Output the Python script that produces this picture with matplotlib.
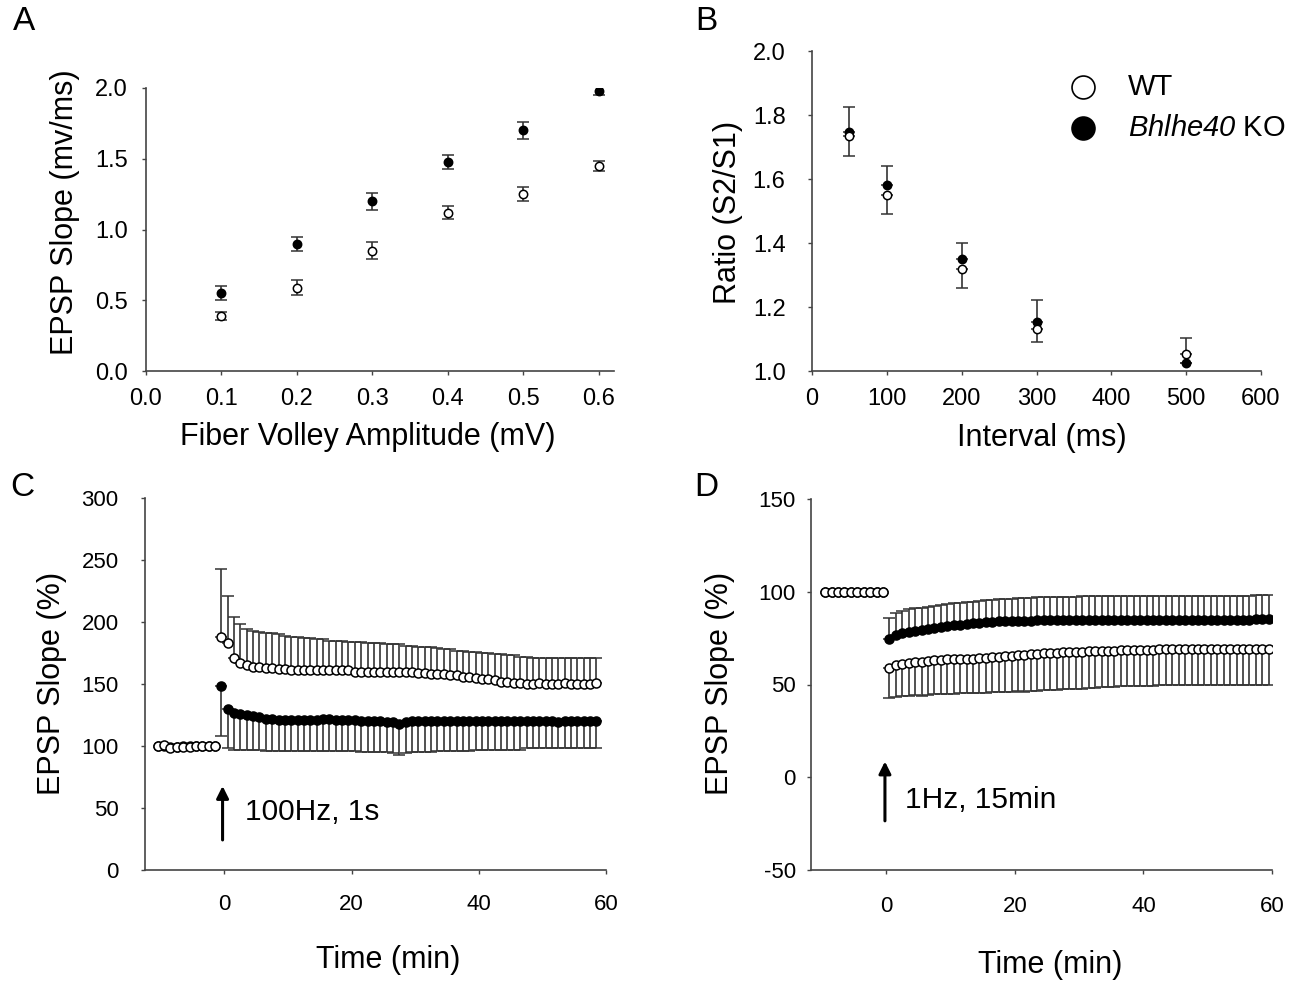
import numpy as np
import matplotlib
matplotlib.use("Agg")
import matplotlib.pyplot as plt

plt.rcParams['font.family'] = ['Liberation Sans', 'DejaVu Sans']
plt.rcParams['axes.unicode_minus'] = False
# digits inside \mathit fall back to the rm font, so make rm italic as well
plt.rcParams['mathtext.fontset'] = 'custom'
plt.rcParams['mathtext.it'] = 'Liberation Sans:italic'
plt.rcParams['mathtext.rm'] = 'Liberation Sans:italic'

# ---- Panel A: input/output ----
fv_amp = [0.1, 0.2, 0.3, 0.4, 0.5, 0.6]
io_wt = [0.39, 0.59, 0.85, 1.12, 1.25, 1.45]
io_wt_err = [0.03, 0.05, 0.06, 0.045, 0.05, 0.035]
io_ko = [0.55, 0.90, 1.20, 1.48, 1.70, 1.98]
io_ko_err = [0.05, 0.05, 0.06, 0.05, 0.06, 0.03]

# ---- Panel B: paired-pulse ratio ----
ppf_interval = [50, 100, 200, 300, 500]
ppf_wt = [1.735, 1.55, 1.32, 1.13, 1.053]
ppf_wt_lo = [0.062, 0.06, 0.06, 0.04, 0.0]
ppf_wt_hi = [0.0, 0.0, 0.0, 0.0, 0.05]
ppf_ko = [1.746, 1.58, 1.35, 1.152, 1.024]
ppf_ko_lo = [0.0, 0.0, 0.0, 0.0, 0.0]
ppf_ko_hi = [0.08, 0.06, 0.05, 0.07, 0.0]

# ---- Panel C: LTP (100 Hz, 1 s) ----
ltp_base_t = np.arange(-10, 0) - 0.5
ltp_base_wt = [100, 101, 98, 99, 99, 99, 100, 100, 100, 100]
ltp_base_ko = [100, 100, 99, 99, 100, 100, 100, 100, 100, 100]
ltp_t = np.arange(60) - 0.5
ltp_wt = [188, 183, 171, 167, 165, 164, 164, 163, 163, 162,
          162, 161, 161, 161, 161, 161, 161, 161, 161, 161,
          161, 160, 160, 160, 160, 160, 160, 160, 160, 160,
          160, 159, 159, 158, 158, 158, 157, 157, 156, 156,
          155, 154, 154, 153, 152, 152, 151, 151, 150, 150,
          151, 150, 150, 150, 151, 150, 150, 150, 150, 151]
ltp_wt_err = [55, 38, 33, 31, 29, 29, 28, 28, 28, 28,
              27, 27, 27, 26, 26, 25, 25, 24, 24, 24,
              23, 24, 24, 23, 23, 23, 22, 22, 22, 21,
              21, 21, 21, 22, 21, 20, 21, 20, 21, 20,
              21, 21, 21, 21, 22, 21, 22, 21, 22, 21,
              20, 21, 21, 21, 20, 21, 21, 21, 21, 20]
ltp_ko = [148, 130, 127, 126, 125, 124, 123, 122, 122, 121,
          121, 121, 121, 121, 121, 121, 122, 122, 121, 121,
          121, 121, 120, 120, 120, 120, 119, 119, 118, 119,
          120, 120, 120, 120, 120, 120, 120, 120, 120, 120,
          120, 120, 120, 120, 120, 120, 120, 120, 120, 120,
          120, 120, 120, 119, 120, 120, 120, 120, 120, 120]
ltp_ko_err = [40, 32, 30, 29, 28, 27, 26, 26, 26, 25,
              25, 25, 25, 25, 25, 25, 26, 26, 25, 25,
              25, 25, 25, 25, 25, 25, 24, 25, 25, 25,
              25, 25, 25, 25, 24, 24, 24, 24, 24, 24,
              23, 23, 23, 23, 23, 23, 23, 23, 22, 22,
              22, 22, 22, 21, 22, 22, 22, 22, 22, 22]

# ---- Panel D: LTD (1 Hz, 15 min) ----
ltd_base_t = np.arange(-10, 0) + 0.5
ltd_base_wt = [100, 100, 100, 100, 100, 100, 100, 100, 100, 100]
ltd_base_ko = [100, 100, 100, 100, 100, 100, 100, 100, 100, 100]
ltd_t = np.arange(60) + 0.5
ltd_ko = [74.5, 76.5, 77.5, 78.5, 79, 79.5, 80, 80.5, 81, 81.5,
          82, 82, 82.5, 83, 83, 83.5, 83.5, 84, 84, 84,
          84.5, 84.5, 84.5, 85, 85, 85, 85, 85, 85, 85,
          85, 85, 85, 85, 85, 85, 85, 85, 85, 85,
          85, 85, 85, 85, 85, 85, 85, 85, 85, 85,
          85, 85, 85, 85, 85, 85, 85, 85.5, 85.5, 85.5]
ltd_ko_err = [11.5, 12, 12, 12, 12, 12, 12, 12, 12, 12,
              12, 12, 12, 11.5, 12, 12, 12, 12, 12, 12,
              12, 12, 12, 12, 12, 12, 12, 12, 12, 12,
              12.5, 12.5, 12.5, 12.5, 12.5, 12.5, 12.5, 12.5, 12.5, 12.5,
              12.5, 12.5, 12.5, 12.5, 12.5, 12.5, 12.5, 12.5, 12.5, 12.5,
              12.5, 12.5, 12.5, 12.5, 12.5, 12.5, 12.5, 12.5, 12.5, 12.5]
ltd_wt = [59, 60.5, 61, 61.5, 62, 62, 62.5, 63, 63, 63.5,
          63.5, 64, 64, 64, 64.5, 64.5, 65, 65, 65.5, 65.5,
          66, 66, 66.5, 66.5, 67, 67, 67, 67.5, 67.5, 67.5,
          67.5, 68, 68, 68, 68, 68, 68.5, 68.5, 68.5, 68.5,
          68.5, 68.5, 69, 69, 69, 69, 69, 69, 69, 69,
          69, 69, 69, 69, 69, 69, 69, 69, 69, 69]
ltd_wt_err = [16.5, 17, 17, 17.5, 17.5, 18, 18, 18, 18, 18.5,
              18.5, 18.5, 18.5, 18.5, 19, 19, 19, 19, 19.5, 19.5,
              19.5, 20, 20, 20, 20, 20, 20, 20, 20, 20,
              20, 20, 20, 19.5, 19.5, 19.5, 19.5, 19.5, 19.5, 19.5,
              19.5, 19.5, 19.5, 19.5, 19.5, 19.5, 19, 19, 19, 19,
              19, 19, 19.5, 19.5, 19, 19, 19, 19, 19.5, 19.5]

W, H = 1303, 983
fig = plt.figure(figsize=(W / 100, H / 100), dpi=100)


def px_axes(left, top, right, bottom):
    return fig.add_axes([left / W, 1 - bottom / H, (right - left) / W, (bottom - top) / H])


def style(ax, size, xpad, ypad):
    for s in ['top', 'right']:
        ax.spines[s].set_visible(False)
    for s in ['left', 'bottom']:
        ax.spines[s].set_color('#444444')
        ax.spines[s].set_linewidth(1.2)
    ax.tick_params(direction='out', length=3, width=1, colors='#444444',
                   labelcolor='black', labelsize=size)
    ax.tick_params(axis='x', pad=xpad)
    ax.tick_params(axis='y', pad=ypad)


ebar = dict(ecolor='#333333', elinewidth=1.2, capsize=4, capthick=1.2,
            linestyle='none', mec='black', mew=1.1)

# Panel A
axA = px_axes(146, 88, 614, 371)
axA.errorbar(fv_amp, io_wt, yerr=io_wt_err, fmt='o', ms=6, mfc='white', **ebar)
axA.errorbar(fv_amp, io_ko, yerr=io_ko_err, fmt='o', ms=6, mfc='black', **ebar)
axA.set_xlim(0, 0.62)
axA.set_ylim(0, 2.0)
axA.set_xticks(np.arange(0, 0.61, 0.1))
axA.set_xticklabels([f"{v:.1f}" for v in np.arange(0, 0.61, 0.1)])
axA.set_yticks(np.arange(0, 2.01, 0.5))
axA.set_yticklabels([f"{v:.1f}" for v in np.arange(0, 2.01, 0.5)])
style(axA, 17, 9, 10)

# Panel B
axB = px_axes(812, 51, 1261, 371)
axB.errorbar(ppf_interval, ppf_ko, yerr=[ppf_ko_lo, ppf_ko_hi], fmt='o', ms=6,
             mfc='black', **ebar)
axB.errorbar(ppf_interval, ppf_wt, yerr=[ppf_wt_lo, ppf_wt_hi], fmt='o', ms=6,
             mfc='white', **ebar)
axB.set_xlim(0, 600)
axB.set_ylim(1.0, 2.0)
axB.set_xticks(np.arange(0, 601, 100))
axB.set_yticks(np.arange(1.0, 2.01, 0.2))
axB.set_yticklabels([f"{v:.1f}" for v in np.arange(1.0, 2.01, 0.2)])
style(axB, 17, 9, 16)

# legend drawn by hand in figure pixels
for (my, face) in [(87, 'white'), (128, 'black')]:
    fig.lines.append(plt.Line2D([1083 / W], [1 - my / H], marker='o', ls='none', ms=16.5,
                                mfc=face, mec='black', mew=1.2,
                                transform=fig.transFigure))
fig.text(1128 / W, 1 - 87 / H, 'WT', fontsize=21, va='center', ha='left')
fig.text(1128 / W, 1 - 128 / H, r'$\mathit{Bhlhe40}$ KO', fontsize=21, va='center', ha='left')

# Panel C
axC = px_axes(145, 498, 606, 870)
axC.plot(ltp_base_t, ltp_base_ko, 'o', ms=6.5, mfc='black', mec='black', zorder=2)
axC.plot(ltp_base_t, ltp_base_wt, 'o', ms=6.5, mfc='white', mec='black', mew=1.1, zorder=3)
axC.errorbar(ltp_t, ltp_wt, yerr=[np.zeros(len(ltp_wt)), ltp_wt_err], fmt='o',
             ms=6.5, mfc='white', **ebar)
axC.errorbar(ltp_t, ltp_ko, yerr=[ltp_ko_err, np.zeros(len(ltp_ko))], fmt='o',
             ms=6.5, mfc='black', **ebar)
axC.set_xlim(-12.5, 60)
axC.set_ylim(0, 300)
axC.set_xticks([0, 20, 40, 60])
axC.set_yticks(np.arange(0, 301, 50))
style(axC, 16, 14, 16)
axC.annotate('', xy=(-0.3, 70), xytext=(-0.3, 22),
             arrowprops=dict(arrowstyle='-|>', color='black', lw=2.2, mutation_scale=18))
axC.text(3.2, 47, '100Hz, 1s', fontsize=21.5, va='center', ha='left')

# Panel D
axD = px_axes(811, 499, 1272, 870)
axD.plot(ltd_base_t, ltd_base_ko, 'o', ms=6.5, mfc='black', mec='black', zorder=2)
axD.plot(ltd_base_t, ltd_base_wt, 'o', ms=6.5, mfc='white', mec='black', mew=1.1, zorder=3)
axD.errorbar(ltd_t, ltd_ko, yerr=[np.zeros(len(ltd_ko)), ltd_ko_err], fmt='o',
             ms=6.5, mfc='black', **ebar)
axD.errorbar(ltd_t, ltd_wt, yerr=[ltd_wt_err, np.zeros(len(ltd_wt))], fmt='o',
             ms=6.5, mfc='white', **ebar)
axD.set_xlim(-11.7, 60)
axD.set_ylim(-50, 150)
axD.set_xticks([0, 20, 40, 60])
axD.set_yticks(np.arange(-50, 151, 50))
style(axD, 16, 16, 8)
axD.annotate('', xy=(-0.2, 10), xytext=(-0.2, -25),
             arrowprops=dict(arrowstyle='-|>', color='black', lw=2.2, mutation_scale=18))
axD.text(2.9, -12, '1Hz, 15min', fontsize=21.5, va='center', ha='left')


# axis labels and panel letters placed in pixel coords
def ftext(x, y, s, **kw):
    fig.text(x / W, 1 - y / H, s, ha='center', va='center', **kw)


ftext(65, 212, 'EPSP Slope (mv/ms)', fontsize=22, rotation=90)
ftext(368, 437, 'Fiber Volley Amplitude (mV)', fontsize=22)
ftext(728, 212, 'Ratio (S2/S1)', fontsize=22, rotation=90)
ftext(1042, 438, 'Interval (ms)', fontsize=22)
ftext(52, 683, 'EPSP Slope (%)', fontsize=22, rotation=90)
ftext(388, 960, 'Time (min)', fontsize=22)
ftext(720, 683, 'EPSP Slope (%)', fontsize=22, rotation=90)
ftext(1050, 965, 'Time (min)', fontsize=22)

for letter, x, y in [('A', 24, 22), ('B', 706, 22), ('C', 22, 488), ('D', 706, 488)]:
    ftext(x, y, letter, fontsize=24)

fig.savefig('out.png', dpi=100)
